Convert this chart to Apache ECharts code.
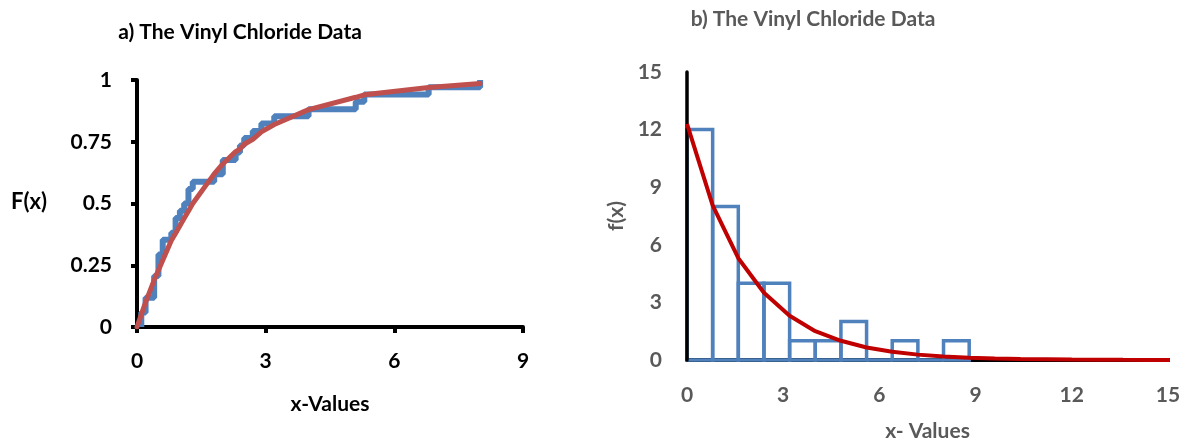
<!DOCTYPE html>
<html>
<head>
<meta charset="utf-8">
<script src="https://cdn.jsdelivr.net/npm/echarts@6/dist/echarts.min.js"></script>
<style>
html,body{margin:0;padding:0;background:#fff;}
#c{width:1192px;height:447px;}
</style>
</head>
<body>
<div id="c"></div>
<script>
// ---- Panel a: empirical CDF (step) and fitted exponential CDF ----
const cdfX = [0.1, 0.1, 0.2, 0.4, 0.5, 0.6, 0.8, 0.9, 1.0, 1.1, 1.2, 1.3, 1.8, 2.0, 2.3, 2.4, 2.5, 2.7, 2.9, 3.2, 4.0, 5.1, 5.3, 6.8, 8.0];
const cdfF = [0, 0.059, 0.118, 0.206, 0.294, 0.353, 0.382, 0.441, 0.471, 0.5, 0.559, 0.588, 0.618, 0.676, 0.706, 0.735, 0.765, 0.794, 0.824, 0.853, 0.882, 0.912, 0.941, 0.971, 1.0];
const fitX = [0, 0.1, 0.2, 0.4, 0.5, 0.6, 0.8, 0.9, 1.0, 1.1, 1.2, 1.3, 1.8, 2.0, 2.3, 2.4, 2.5, 2.7, 2.9, 3.2, 4.0, 5.1, 5.3, 6.8, 8.0];
const fitF = [0, 0.05, 0.10, 0.19, 0.23, 0.27, 0.35, 0.38, 0.41, 0.44, 0.47, 0.50, 0.62, 0.66, 0.71, 0.72, 0.74, 0.76, 0.79, 0.82, 0.88, 0.93, 0.94, 0.97, 0.986];
const aXTicks = [0, 3, 6, 9];
const aYTicks = [0, 0.25, 0.5, 0.75, 1];

// ---- Panel b: histogram and fitted exponential density ----
const binStart = [0, 0.8, 1.6, 2.4, 3.2, 4.0, 4.8, 5.6, 6.4, 7.2, 8.0];
const binEnd   = [0.8, 1.6, 2.4, 3.2, 4.0, 4.8, 5.6, 6.4, 7.2, 8.0, 8.8];
const binCount = [12, 8, 4, 4, 1, 1, 2, 0, 1, 0, 1];
const pdfX = [0, 0.8, 1.6, 2.4, 3.2, 4.0, 4.8, 5.6, 6.4, 7.2, 8.0, 8.8, 9.6, 10.4, 11.2, 12.0, 12.8, 13.6, 14.4, 15.2];
const pdfY = [12.3, 8.05, 5.3, 3.5, 2.3, 1.5, 1.0, 0.65, 0.43, 0.28, 0.18, 0.12, 0.08, 0.05, 0.035, 0.02, 0.015, 0.01, 0.006, 0.004];
const bXTicks = [0, 3, 6, 9, 12, 15];
const bYTicks = [0, 3, 6, 9, 12, 15];

const titleA = 'a) The Vinyl Chloride Data';
const titleB = 'b) The Vinyl Chloride Data';

const FONT = 'Lato, "Open Sans", sans-serif';
const FS = 21;
const labA = {fontFamily: FONT, fontWeight: 'bold', fontSize: FS, color: '#000'};
const labB = {fontFamily: FONT, fontWeight: 'bold', fontSize: FS, color: '#595959'};

const chart = echarts.init(document.getElementById('c'), null, {renderer: 'canvas'});
chart.setOption({
  animation: false,
  backgroundColor: '#fff',
  title: [
    {text: titleA, left: 235, top: 17, textAlign: 'center',
     textStyle: {fontFamily: FONT, fontWeight: 'bold', fontSize: FS, color: '#000'}},
    {text: titleB, left: 808, top: 4, textAlign: 'center',
     textStyle: {fontFamily: FONT, fontWeight: 'bold', fontSize: FS, color: '#595959'}}
  ],
  grid: [
    {left: 137, top: 80, width: 386, height: 247},
    {left: 687, top: 72, width: 481, height: 288}
  ],
  xAxis: [
    {gridIndex: 0, type: 'value', min: aXTicks[0], max: aXTicks[aXTicks.length - 1], interval: 3,
     splitLine: {show: false},
     axisLine: {lineStyle: {color: '#000', width: 4}},
     axisTick: {show: true, length: 6, lineStyle: {color: '#000', width: 4}},
     axisLabel: Object.assign({margin: 24}, labA),
     name: 'x-Values', nameLocation: 'middle', nameGap: 67, nameTextStyle: labA},
    {gridIndex: 1, type: 'value', min: bXTicks[0], max: bXTicks[bXTicks.length - 1], interval: 3,
     splitLine: {show: false},
     axisLine: {lineStyle: {color: '#000', width: 4}},
     axisTick: {show: false},
     axisLabel: Object.assign({margin: 25}, labB),
     name: 'x- Values', nameLocation: 'middle', nameGap: 61, nameTextStyle: labB}
  ],
  yAxis: [
    {gridIndex: 0, type: 'value', min: aYTicks[0], max: aYTicks[aYTicks.length - 1], interval: 0.25,
     splitLine: {show: false},
     axisLine: {show: true, lineStyle: {color: '#000', width: 4}},
     axisTick: {show: true, length: 6, lineStyle: {color: '#000', width: 4}},
     axisLabel: Object.assign({margin: 25}, labA)},
    {gridIndex: 1, type: 'value', min: bYTicks[0], max: bYTicks[bYTicks.length - 1], interval: 3,
     z: 10, offset: 2,
     splitLine: {show: false},
     axisLine: {show: true, lineStyle: {color: '#000', width: 3.5}},
     axisTick: {show: false},
     axisLabel: Object.assign({margin: 23}, labB),
     name: 'f(x)', nameLocation: 'middle', nameGap: 58, nameTextStyle: labB}
  ],
  graphic: [
    {type: 'text', left: 11, top: 191, style: {text: 'F(x)', font: 'bold 22px ' + FONT, fill: '#000'}}
  ],
  series: [
    {type: 'line', xAxisIndex: 0, yAxisIndex: 0, step: 'end', symbol: 'none',
     data: cdfX.map((x, i) => [x, cdfF[i]]),
     lineStyle: {color: '#4F81BD', width: 6}, z: 3},
    {type: 'line', xAxisIndex: 0, yAxisIndex: 0, symbol: 'none', smooth: false,
     data: fitX.map((x, i) => [x, fitF[i]]),
     lineStyle: {color: '#C0504D', width: 5, cap: 'round'}, z: 4},
    {type: 'custom', xAxisIndex: 1, yAxisIndex: 1,
     data: binStart.map((s, i) => [s, binEnd[i], binCount[i]]),
     encode: {x: [0, 1], y: 2},
     renderItem: function (params, api) {
       const p0 = api.coord([api.value(0), api.value(2)]);
       const p1 = api.coord([api.value(1), 0]);
       return {type: 'rect',
         shape: {x: p0[0], y: p0[1], width: p1[0] - p0[0], height: p1[1] - p0[1]},
         style: {fill: 'none', stroke: '#4F81BD', lineWidth: 3.5}};
     }, z: 2},
    {type: 'line', xAxisIndex: 1, yAxisIndex: 1, symbol: 'none', smooth: false, clip: true,
     data: pdfX.map((x, i) => [x, pdfY[i]]),
     lineStyle: {color: '#C00000', width: 4}, z: 11}
  ]
});
</script>
</body>
</html>
